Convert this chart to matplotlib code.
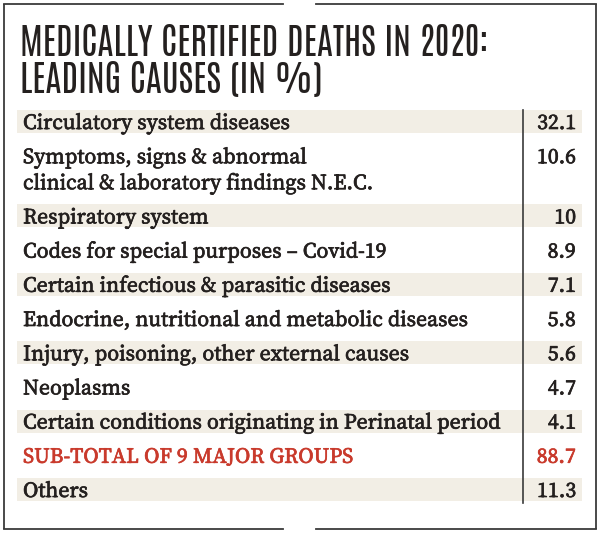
import matplotlib
matplotlib.use("Agg")
import matplotlib.pyplot as plt
import matplotlib.patheffects as pe

# ---- data ----
title_lines = ["MEDICALLY CERTIFIED DEATHS IN 2020:", "LEADING CAUSES (IN %)"]
categories = [
    "Circulatory system diseases",
    "Symptoms, signs & abnormal\nclinical & laboratory findings N.E.C.",
    "Respiratory system",
    "Codes for special purposes \u2013 Covid-19",
    "Certain infectious & parasitic diseases",
    "Endocrine, nutritional and metabolic diseases",
    "Injury, poisoning, other external causes",
    "Neoplasms",
    "Certain conditions originating in Perinatal period",
    "SUB-TOTAL OF 9 MAJOR GROUPS",
    "Others",
]
values = ["32.1", "10.6", "10", "8.9", "7.1", "5.8", "5.6", "4.7", "4.1", "88.7", "11.3"]
highlight = [False] * 9 + [True, False]

# ---- style ----
W, H, DPI = 600, 535, 100
INK = "#24201f"
RED = "#c93a2c"
SHADE = "#f2eee5"
BORDER = "#3a3a3a"
TITLE_FONT = ["Antonio", "Oswald", "DejaVu Sans"]
BODY_FONT = ["Source Serif 4", "Noto Serif", "DejaVu Serif"]
BODY_WEIGHT = "semibold"

fig = plt.figure(figsize=(W / DPI, H / DPI), dpi=DPI)
ax = fig.add_axes([0, 0, 1, 1])
ax.set_xlim(0, W)
ax.set_ylim(H, 0)
ax.axis("off")
renderer = fig.canvas.get_renderer()


def fit_size(text, family, target_px, base=20, **kw):
    t = ax.text(0, 0, text, fontsize=base, family=family, **kw)
    w = t.get_window_extent(renderer).width
    t.remove()
    return base * target_px / w


def bold_fx(color):
    return [pe.withStroke(linewidth=0.45, foreground=color)]


# border with gaps at top and bottom
lw = 1.3
x0, x1, y0, y1 = 3.5, 595.5, 3.5, 528.5
gap0, gap1 = 283, 316
ax.plot([x0, x0], [y0, y1], color=BORDER, lw=lw, solid_capstyle="butt")
ax.plot([x1, x1], [y0, y1], color=BORDER, lw=lw, solid_capstyle="butt")
for yy in (y0, y1):
    ax.plot([x0, gap0], [yy, yy], color=BORDER, lw=lw, solid_capstyle="projecting")
    ax.plot([gap1, x1], [yy, yy], color=BORDER, lw=lw, solid_capstyle="projecting")

# title
tsize = fit_size(title_lines[0], TITLE_FONT, 470)
for i, line in enumerate(title_lines):
    ax.text(20, 56 + 37 * i, line, fontsize=tsize, family=TITLE_FONT, color=INK,
            va="baseline", ha="left")

# body rows
bsize = fit_size(categories[8], BODY_FONT, 478, weight=BODY_WEIGHT)
row_step = 34.2
line_step = 26
left, right = 17, 582
text_x, num_x, sep_x = 23, 576, 522.5
y = 122.5
for i, (cat, val, hl) in enumerate(zip(categories, values, highlight)):
    nlines = cat.count("\n") + 1
    if i % 2 == 0:
        ax.add_patch(plt.Rectangle((left, y - 12.5), right - left, 23,
                                   facecolor=SHADE, edgecolor="none", zorder=0))
    col = RED if hl else INK
    for j, part in enumerate(cat.split("\n")):
        ax.text(text_x, y + 6.5 + j * line_step, part, fontsize=bsize, family=BODY_FONT,
                weight=BODY_WEIGHT, color=col, va="baseline", ha="left",
                path_effects=bold_fx(col))
    ax.text(num_x, y + 6.5, val, fontsize=bsize, family=BODY_FONT, weight=BODY_WEIGHT,
            color=col, va="baseline", ha="right", path_effects=bold_fx(col))
    last_y = y
    y += row_step + line_step * (nlines - 1)

ax.plot([sep_x, sep_x], [110, last_y + 12.5], color=BORDER, lw=1.2, zorder=3)

fig.savefig("out.png", dpi=DPI)
